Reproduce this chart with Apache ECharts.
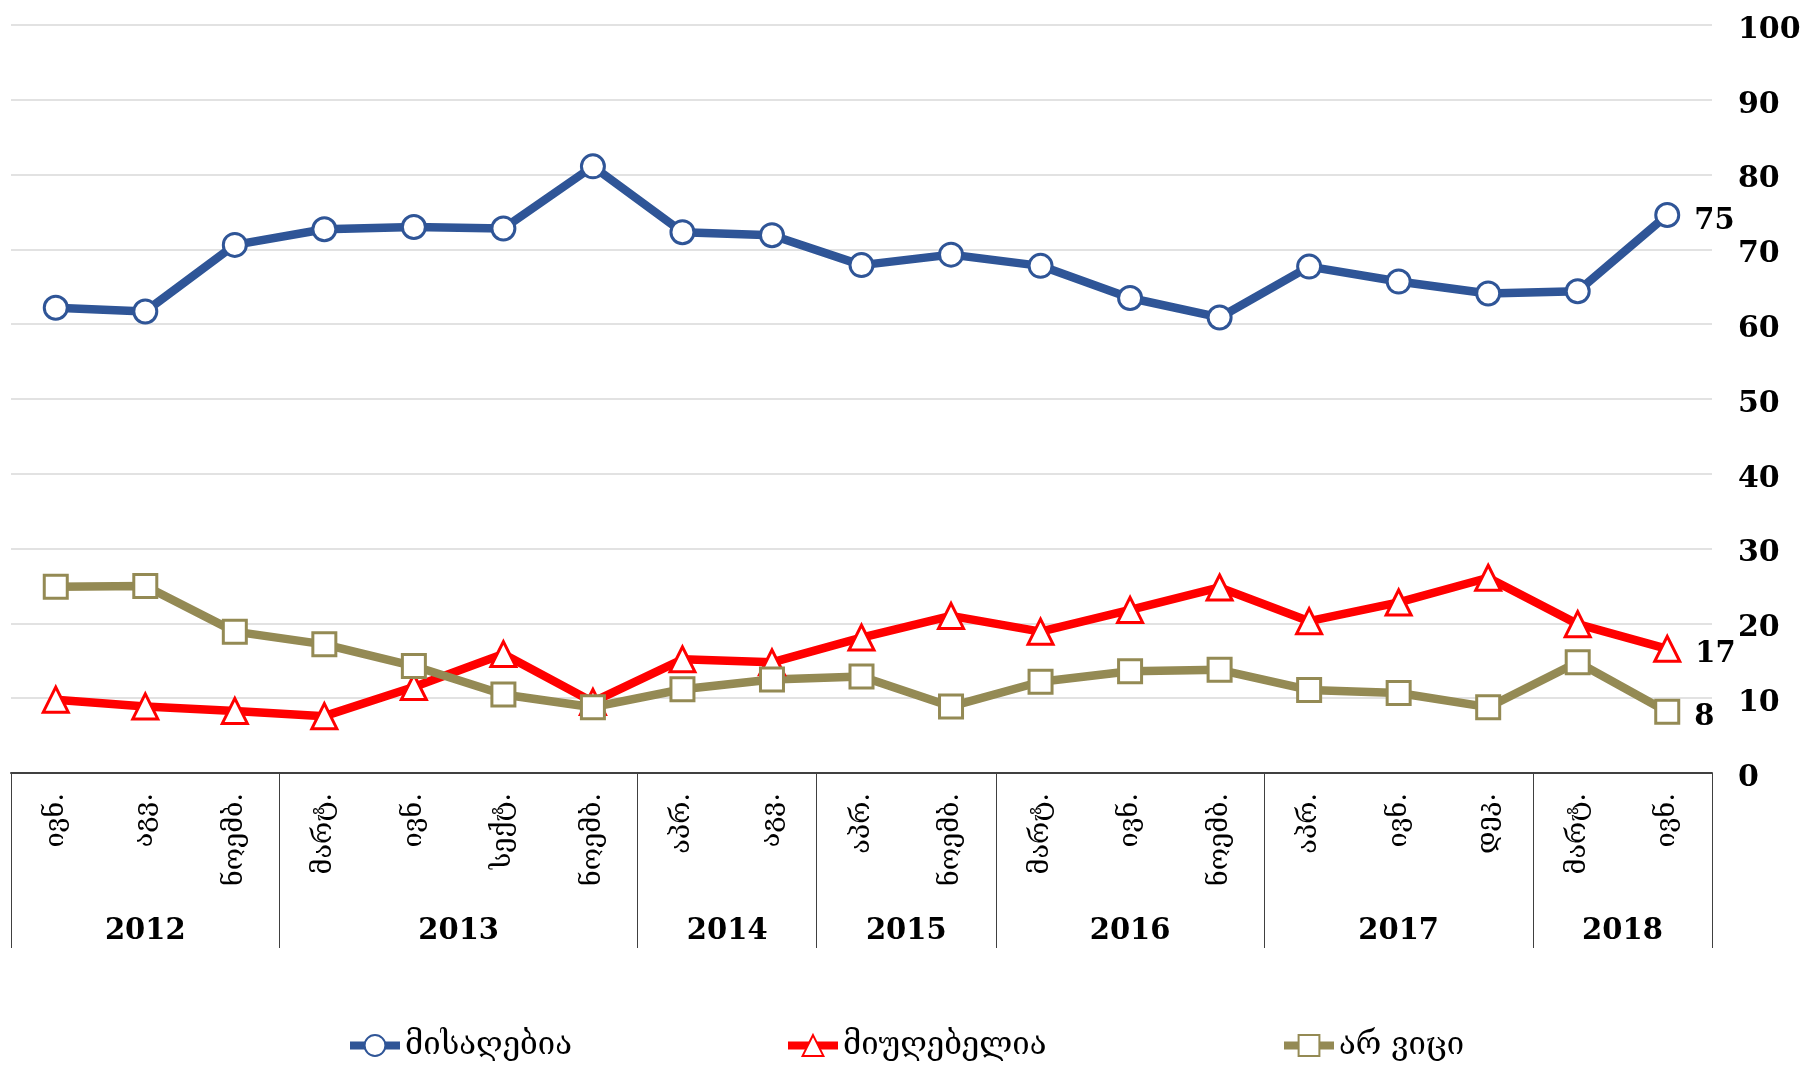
<!DOCTYPE html>
<html>
<head>
<meta charset="utf-8">
<script src="https://cdn.jsdelivr.net/npm/echarts@6/dist/echarts.min.js"></script>
<style>
html,body{margin:0;padding:0;background:#fff;}
#chart{width:1808px;height:1067px;}
</style>
</head>
<body>
<div id="chart"></div>
<script>
const categories = ['ივნ.','აგვ.','ნოემბ.','მარტ.','ივნ.','სექტ.','ნოემბ.','აპრ.','აგვ.','აპრ.','ნოემბ.','მარტ.','ივნ.','ნოემბ.','აპრ.','ივნ.','დეკ.','მარტ.','ივნ.'];
const years = ['2012','2013','2014','2015','2016','2017','2018'];
const yearCounts = [3,4,2,2,3,3,2];
const seriesNames = ['მისაღებია','მიუღებელია','არ ვიცი'];
const acceptable = [62.2,61.7,70.6,72.7,73.0,72.8,81.1,72.3,71.9,67.9,69.3,67.8,63.5,60.9,67.7,65.7,64.1,64.4,74.6];
const unacceptable = [9.8,8.9,8.3,7.6,11.5,15.9,9.5,15.2,14.8,18.1,21.0,18.9,21.8,24.8,20.3,22.8,26.1,19.9,16.6];
const dontKnow = [24.9,25.0,18.9,17.2,14.3,10.5,8.8,11.2,12.5,12.9,8.9,12.2,13.6,13.8,11.1,10.7,8.8,14.8,8.2];
const yTicks = [0,10,20,30,40,50,60,70,80,90,100];

const bounds = [0];
yearCounts.forEach(c => bounds.push(bounds[bounds.length-1] + c));
const mids = years.map((y,i) => (bounds[i] + bounds[i+1]) / 2);

const NUMFONT = "'DejaVu Serif'";
const GEOFONT = "'DejaVu Serif', 'DejaVu Sans'";
const colors = ['#2F5597','#FF0000','#948A54'];
const symbols = ['circle','triangle','rect'];
const values = [acceptable, unacceptable, dontKnow];
const last = categories.length - 1;

const chart = echarts.init(document.getElementById('chart'), null, {renderer:'canvas'});
const option = {
  animation: false,
  grid: {left: 11, right: 96, top: 25, bottom: 294, containLabel: false},
  xAxis: [
    {
      type: 'category',
      data: categories,
      boundaryGap: true,
      position: 'bottom',
      axisLine: {show: true, lineStyle: {color: '#404040', width: 2}},
      axisTick: {show: false},
      axisLabel: {interval: 0, rotate: 90, margin: 20, fontSize: 27, color: '#000', fontFamily: GEOFONT},
      splitLine: {show: false}
    },
    {
      type: 'value',
      min: 0,
      max: categories.length,
      position: 'bottom',
      axisLine: {show: false},
      axisTick: {show: true, customValues: bounds, length: 175, lineStyle: {color: '#404040', width: 1}},
      axisLabel: {
        customValues: mids, margin: 144, fontSize: 29, fontWeight: 'bold', color: '#000', fontFamily: NUMFONT,
        formatter: v => { const i = mids.findIndex(m => Math.abs(m - v) < 1e-6); return i >= 0 ? years[i] : ''; }
      },
      splitLine: {show: false}
    }
  ],
  yAxis: {
    type: 'value', position: 'right', min: 0, max: 100, interval: 10,
    axisLine: {show: false}, axisTick: {show: false},
    axisLabel: {margin: 26, align: 'left', verticalAlign: 'top', lineHeight: 10, fontSize: 30, fontWeight: 'bold', color: '#000', fontFamily: NUMFONT,
      customValues: yTicks},
    splitLine: {show: true, lineStyle: {color: '#D9D9D9', width: 1.5}}
  },
  legend: seriesNames.map((n, i) => ({
    data: [n],
    left: [346, 784, 1280][i],
    top: 1030,
    padding: 0,
    itemWidth: 50, itemHeight: 26,
    lineStyle: {width: 8},
    textStyle: {fontSize: 31, color: '#000', fontFamily: GEOFONT},
    itemGap: 0
  })),
  series: seriesNames.map((n, i) => ({
    name: n,
    type: 'line',
    xAxisIndex: 0,
    data: values[i],
    symbol: symbols[i],
    symbolSize: i === 1 ? [25, 25] : 23,
    showAllSymbol: true,
    lineStyle: {color: colors[i], width: 8.5},
    itemStyle: {color: '#fff', borderColor: colors[i], borderWidth: 3},
    label: {
      show: true, position: 'right', distance: 14, offset: [0, 6],
      fontSize: 29, fontWeight: 'bold', color: '#000', fontFamily: NUMFONT,
      formatter: p => p.dataIndex === last ? String(Math.round(p.value)) : ''
    },
    emphasis: {disabled: true}
  }))
};
chart.setOption(option);
</script>
</body>
</html>
